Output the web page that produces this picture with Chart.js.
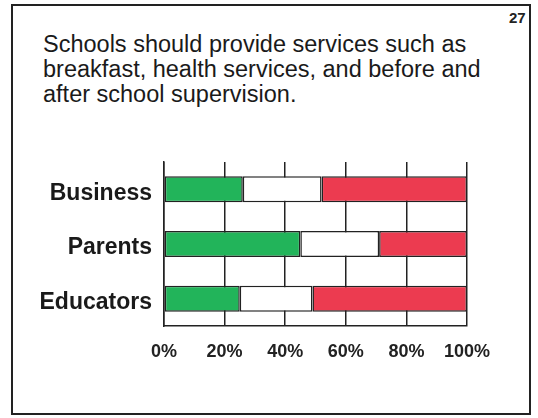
<!DOCTYPE html>
<html>
<head>
<meta charset="utf-8">
<script src="https://cdn.jsdelivr.net/npm/chart.js@4/dist/chart.umd.min.js"></script>
<style>
  html, body { margin: 0; padding: 0; background: #fff; }
  #page { position: relative; width: 538px; height: 418px; overflow: hidden; background: #fff; }
  #frame { position: absolute; left: 11px; top: 4px; width: 520px; height: 411px; border: 2px solid #222; box-sizing: border-box; }
  #num { position: absolute; left: 509px; top: 9px; font: bold 15px "Liberation Sans", Arial, sans-serif; color: #222; }
  #title { position: absolute; left: 43px; top: 32px; font: 23.5px "Liberation Sans", Arial, sans-serif; line-height: 25px; color: #1a1a1a; }
  #c { position: absolute; left: 0; top: 0; }
</style>
</head>
<body>
<div id="page">
  <div id="frame"></div>
  <div id="num">27</div>
  <div id="title">Schools should provide services such as<br>breakfast, health services, and before and<br>after school supervision.</div>
  <canvas id="c" width="538" height="418"></canvas>
</div>
<script>
// Survey groups and share of responses (percent) per answer band
const groups = ['Business', 'Parents', 'Educators'];
const agree = [26, 45, 25];
const neutral = [26, 26, 24];
const disagree = [48, 29, 51];
const xTicks = [0, 20, 40, 60, 80, 100];

const ink = '#222';

new Chart(document.getElementById('c'), {
  type: 'bar',
  data: {
    labels: groups,
    datasets: [
      { label: 'Agree', data: agree, backgroundColor: '#22b45a' },
      { label: 'Neutral', data: neutral, backgroundColor: '#ffffff' },
      { label: 'Disagree', data: disagree, backgroundColor: '#ec3b50' }
    ].map(d => Object.assign(d, {
      borderColor: ink, borderWidth: 1.5, borderSkipped: false,
      categoryPercentage: 1, barPercentage: 0.475
    }))
  },
  options: {
    indexAxis: 'y',
    responsive: false,
    animation: false,
    layout: { padding: { left: 0, top: 162, right: 71, bottom: 52 } },
    plugins: { legend: { display: false }, tooltip: { enabled: false } },
    scales: {
      x: {
        stacked: true, min: 0, max: 100,
        afterBuildTicks: s => { s.ticks = xTicks.map(v => ({ value: v })); },
        afterFit: s => { s.height = 40; },
        grid: { color: ink, lineWidth: 1.5, drawTicks: false },
        border: { display: true, color: ink, width: 1.5 },
        ticks: {
          callback: v => v + '%',
          color: '#222', padding: 15,
          font: { family: '"Liberation Sans", Arial, sans-serif', size: 18, weight: 'bold' }
        }
      },
      y: {
        stacked: true,
        afterFit: s => { s.width = 164; },
        grid: { display: false, drawTicks: false },
        border: { display: true, color: ink, width: 1.5 },
        ticks: {
          color: '#1a1a1a', padding: 12, labelOffset: 4,
          font: { family: '"Liberation Sans", Arial, sans-serif', size: 23, weight: 'bold' }
        }
      }
    }
  }
});
</script>
</body>
</html>
